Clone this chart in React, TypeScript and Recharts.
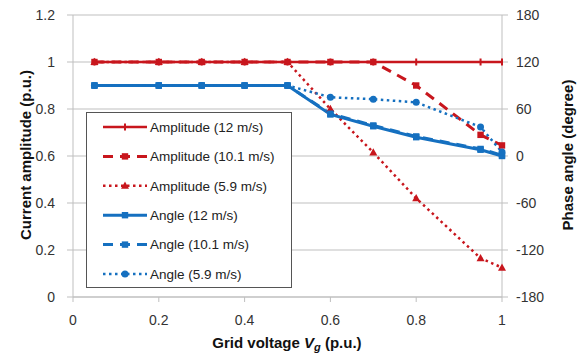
import React from 'react';
import { ComposedChart, Line, XAxis, YAxis, CartesianGrid } from 'recharts';

const voltage = [0.05, 0.2, 0.3, 0.4, 0.5, 0.6, 0.7, 0.8, 0.95, 1];
const amp12 = [1, 1, 1, 1, 1, 1, 1, 1, 1, 1];
const amp101 = [1, 1, 1, 1, 1, 1, 1, 0.9, 0.69, 0.645];
const amp59 = [1, 1, 1, 1, 1, 0.8, 0.615, 0.42, 0.165, 0.125];
const ang12 = [90, 90, 90, 90, 90, 53, 38, 24, 8, 0];
const ang101 = [90, 90, 90, 90, 90, 54, 39, 25, 9, 1];
const ang59 = [90, 90, 90, 90, 90, 75, 72.5, 68.5, 37, 5];
const xTicks = [0, 0.2, 0.4, 0.6, 0.8, 1];
const ampTicks = [0, 0.2, 0.4, 0.6, 0.8, 1, 1.2];
const angTicks = [-180, -120, -60, 0, 60, 120, 180];

const RED = '#C8161D';
const BLUE = '#1570C0';
const GRID = '#BFBFBF';
const FONT = 'Liberation Sans, Arial, sans-serif';

const data = voltage.map((v, i) => ({
  v,
  amp12: amp12[i],
  amp101: amp101[i],
  amp59: amp59[i],
  ang12: ang12[i],
  ang101: ang101[i],
  ang59: ang59[i],
}));

type MarkerKind = 'tick' | 'square' | 'triangle' | 'circle';

function marker(kind: MarkerKind, cx: number, cy: number, color: string, key?: string) {
  if (kind === 'tick') {
    return <rect key={key} x={cx - 1} y={cy - 3.5} width={2} height={7} fill={color} />;
  }
  if (kind === 'square') {
    return <rect key={key} x={cx - 3.2} y={cy - 3.2} width={6.4} height={6.4} fill={color} />;
  }
  if (kind === 'triangle') {
    return (
      <polygon
        key={key}
        points={`${cx},${cy - 4.2} ${cx + 4},${cy + 3} ${cx - 4},${cy + 3}`}
        fill={color}
      />
    );
  }
  return <circle key={key} cx={cx} cy={cy} r={3.5} fill={color} />;
}

const series = [
  { key: 'amp12', name: 'Amplitude (12 m/s)', color: RED, axis: 'left', width: 2.5, dash: undefined as string | undefined, mk: 'tick' as MarkerKind },
  { key: 'amp101', name: 'Amplitude (10.1 m/s)', color: RED, axis: 'left', width: 3, dash: '10 7', mk: 'square' as MarkerKind },
  { key: 'amp59', name: 'Amplitude (5.9 m/s)', color: RED, axis: 'left', width: 2.5, dash: '2.5 3.5', mk: 'triangle' as MarkerKind },
  { key: 'ang12', name: 'Angle (12 m/s)', color: BLUE, axis: 'right', width: 3, dash: undefined as string | undefined, mk: 'square' as MarkerKind },
  { key: 'ang101', name: 'Angle (10.1 m/s)', color: BLUE, axis: 'right', width: 3, dash: '10 7', mk: 'square' as MarkerKind },
  { key: 'ang59', name: 'Angle (5.9 m/s)', color: BLUE, axis: 'right', width: 2.5, dash: '2.5 3.5', mk: 'circle' as MarkerKind },
];

const tickStyle = { fontSize: 14, fill: '#333', fontFamily: FONT };

export default function App() {
  return (
    <div style={{ position: 'absolute', left: 0, top: 0, width: 588, height: 356, background: '#fff' }}>
      <ComposedChart
        width={588}
        height={356}
        data={data}
        margin={{ top: 15, right: 26, bottom: 19, left: 13 }}
      >
        <CartesianGrid yAxisId="left" vertical={false} stroke={GRID} strokeWidth={1} />
        <XAxis
          dataKey="v"
          type="number"
          domain={[0, 1]}
          ticks={xTicks}
          height={40}
          tickSize={5}
          tickMargin={13}
          stroke={GRID}
          tick={tickStyle}
          interval={0}
        />
        <YAxis
          yAxisId="left"
          orientation="left"
          domain={[0, 1.2]}
          ticks={ampTicks}
          width={60}
          tickSize={6}
          tickMargin={12}
          stroke={GRID}
          tick={tickStyle}
          interval={0}
          allowDataOverflow
        />
        <YAxis
          yAxisId="right"
          orientation="right"
          domain={[-180, 180]}
          ticks={angTicks}
          width={60}
          tickSize={6}
          tickMargin={8}
          stroke={GRID}
          tick={{ ...tickStyle, textAnchor: 'start' }}
          interval={0}
          allowDataOverflow
        />
        {series.map((s) => (
          <Line
            key={s.key}
            dataKey={s.key}
            yAxisId={s.axis}
            type="linear"
            stroke={s.color}
            strokeWidth={s.width}
            strokeDasharray={s.dash}
            isAnimationActive={false}
            dot={(p: any) => marker(s.mk, p.cx, p.cy, s.color, `${s.key}-${p.index}`)}
            activeDot={false}
          />
        ))}
      </ComposedChart>
      <svg
        width={588}
        height={356}
        style={{ position: 'absolute', left: 0, top: 0, pointerEvents: 'none' }}
      >
        <text
          x={0}
          y={0}
          transform="translate(31,155) rotate(-90)"
          textAnchor="middle"
          fontFamily={FONT}
          fontWeight="bold"
          fontSize={15}
          fill="#111"
        >
          Current amplitude (p.u.)
        </text>
        <text
          x={0}
          y={0}
          transform="translate(573,155) rotate(-90)"
          textAnchor="middle"
          fontFamily={FONT}
          fontWeight="bold"
          fontSize={15}
          fill="#111"
        >
          Phase angle (degree)
        </text>
        <text x={287} y={348} textAnchor="middle" fontFamily={FONT} fontWeight="bold" fontSize={15} fill="#111">
          Grid voltage <tspan fontStyle="italic">V</tspan>
          <tspan fontStyle="italic" fontSize={11} dy={3}>g</tspan>
          <tspan dy={-3}> (p.u.)</tspan>
        </text>
        <rect x={86.5} y={112.5} width={205} height={175} fill="#fff" stroke="#555" strokeWidth={1} />
        {series.map((s, i) => {
          const y = 127 + i * 29.4;
          return (
            <g key={s.key}>
              <line
                x1={103}
                x2={147}
                y1={y}
                y2={y}
                stroke={s.color}
                strokeWidth={s.width}
                strokeDasharray={s.dash}
              />
              {marker(s.mk, 125, y, s.color)}
              <text x={150} y={y} dy="0.36em" fontFamily={FONT} fontSize={13.5} fill="#222">
                {s.name}
              </text>
            </g>
          );
        })}
      </svg>
    </div>
  );
}
